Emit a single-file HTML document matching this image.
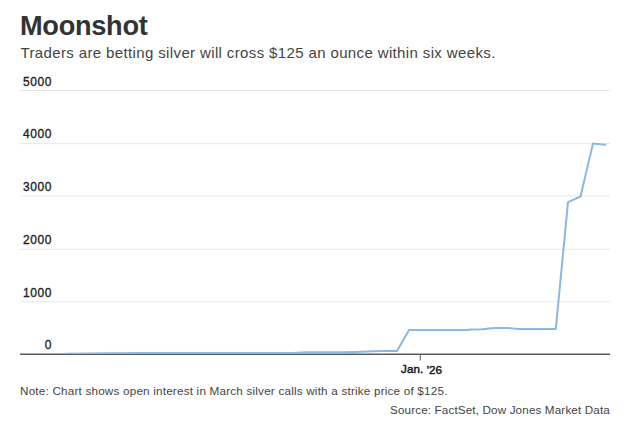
<!DOCTYPE html>
<html>
<head>
<meta charset="utf-8">
<style>
html,body{margin:0;padding:0;background:#fff;}
body{width:626px;height:430px;position:relative;overflow:hidden;font-family:"Liberation Sans",sans-serif;color:#333;}
.t{position:absolute;white-space:nowrap;line-height:1;}
#title{left:19.8px;top:11.9px;font-size:27.2px;font-weight:bold;letter-spacing:-0.3px;color:#333;transform:rotate(0.001deg);}
#sub{left:20.5px;top:45px;font-size:15px;color:#444;letter-spacing:0.37px;}
.yl{font-size:12px;font-weight:normal;-webkit-text-stroke:0.33px #222;color:#222;width:30px;text-align:right;left:22px;letter-spacing:0.6px;}
#xl{font-size:11.6px;font-weight:normal;-webkit-text-stroke:0.5px #222;color:#222;left:400.7px;top:363.4px;letter-spacing:0.1px;transform:translateY(0.5px) rotate(0.001deg);}
#note{left:20px;top:384.8px;font-size:11.7px;color:#444;letter-spacing:0.2px;transform:rotate(0.001deg);}
#src{right:16px;top:404.3px;font-size:11.7px;color:#444;letter-spacing:0.13px;transform:rotate(0.001deg);}
svg{position:absolute;left:0;top:0;}
</style>
</head>
<body>
<svg width="626" height="430" viewBox="0 0 626 430">
  <g stroke="#e7e7e7" stroke-width="1">
    <line x1="20" x2="610" y1="90.5" y2="90.5"/>
    <line x1="20" x2="610" y1="143.7" y2="143.7"/>
    <line x1="20" x2="610" y1="196.05" y2="196.05"/>
    <line x1="20" x2="610" y1="249.3" y2="249.3"/>
    <line x1="20" x2="610" y1="301.8" y2="301.8"/>
  </g>
  <line x1="20" x2="610" y1="354.25" y2="354.25" stroke-width="1.6" stroke="#5a5a5a"/>
  <line x1="420.3" x2="420.3" y1="354" y2="360.4" stroke-width="1" stroke="#555"/>
  <clipPath id="c"><rect x="0" y="0" width="626" height="354"/></clipPath>
  <polyline clip-path="url(#c)" fill="none" stroke="#8ab8e4" stroke-width="2" stroke-linejoin="round" stroke-linecap="butt"
    points="65,353.7 110,353.3 150,352.9 293,352.9 305.5,352.3 343,352.3 355.5,351.9 368,351.5 380.5,351.1 397,351.1 409,329.9 467,329.9 471,329.4 482.5,329.3 494,328.05 508,328.05 518.5,328.9 555.8,328.9 568,202.2 580.5,196.5 593,143.4 606,144.7"/>
</svg>
<div class="t" id="title">Moonshot</div>
<div class="t" id="sub">Traders are betting silver will cross $125 an ounce within six weeks.</div>
<div class="t yl" style="top:76px">5000</div>
<div class="t yl" style="top:128px">4000</div>
<div class="t yl" style="top:181px">3000</div>
<div class="t yl" style="top:234px">2000</div>
<div class="t yl" style="top:287px">1000</div>
<div class="t yl" style="top:339px">0</div>
<div class="t" id="xl">Jan. '26</div>
<div class="t" id="note">Note: Chart shows open interest in March silver calls with a strike price of $125.</div>
<div class="t" id="src">Source: FactSet, Dow Jones Market Data</div>
</body>
</html>
